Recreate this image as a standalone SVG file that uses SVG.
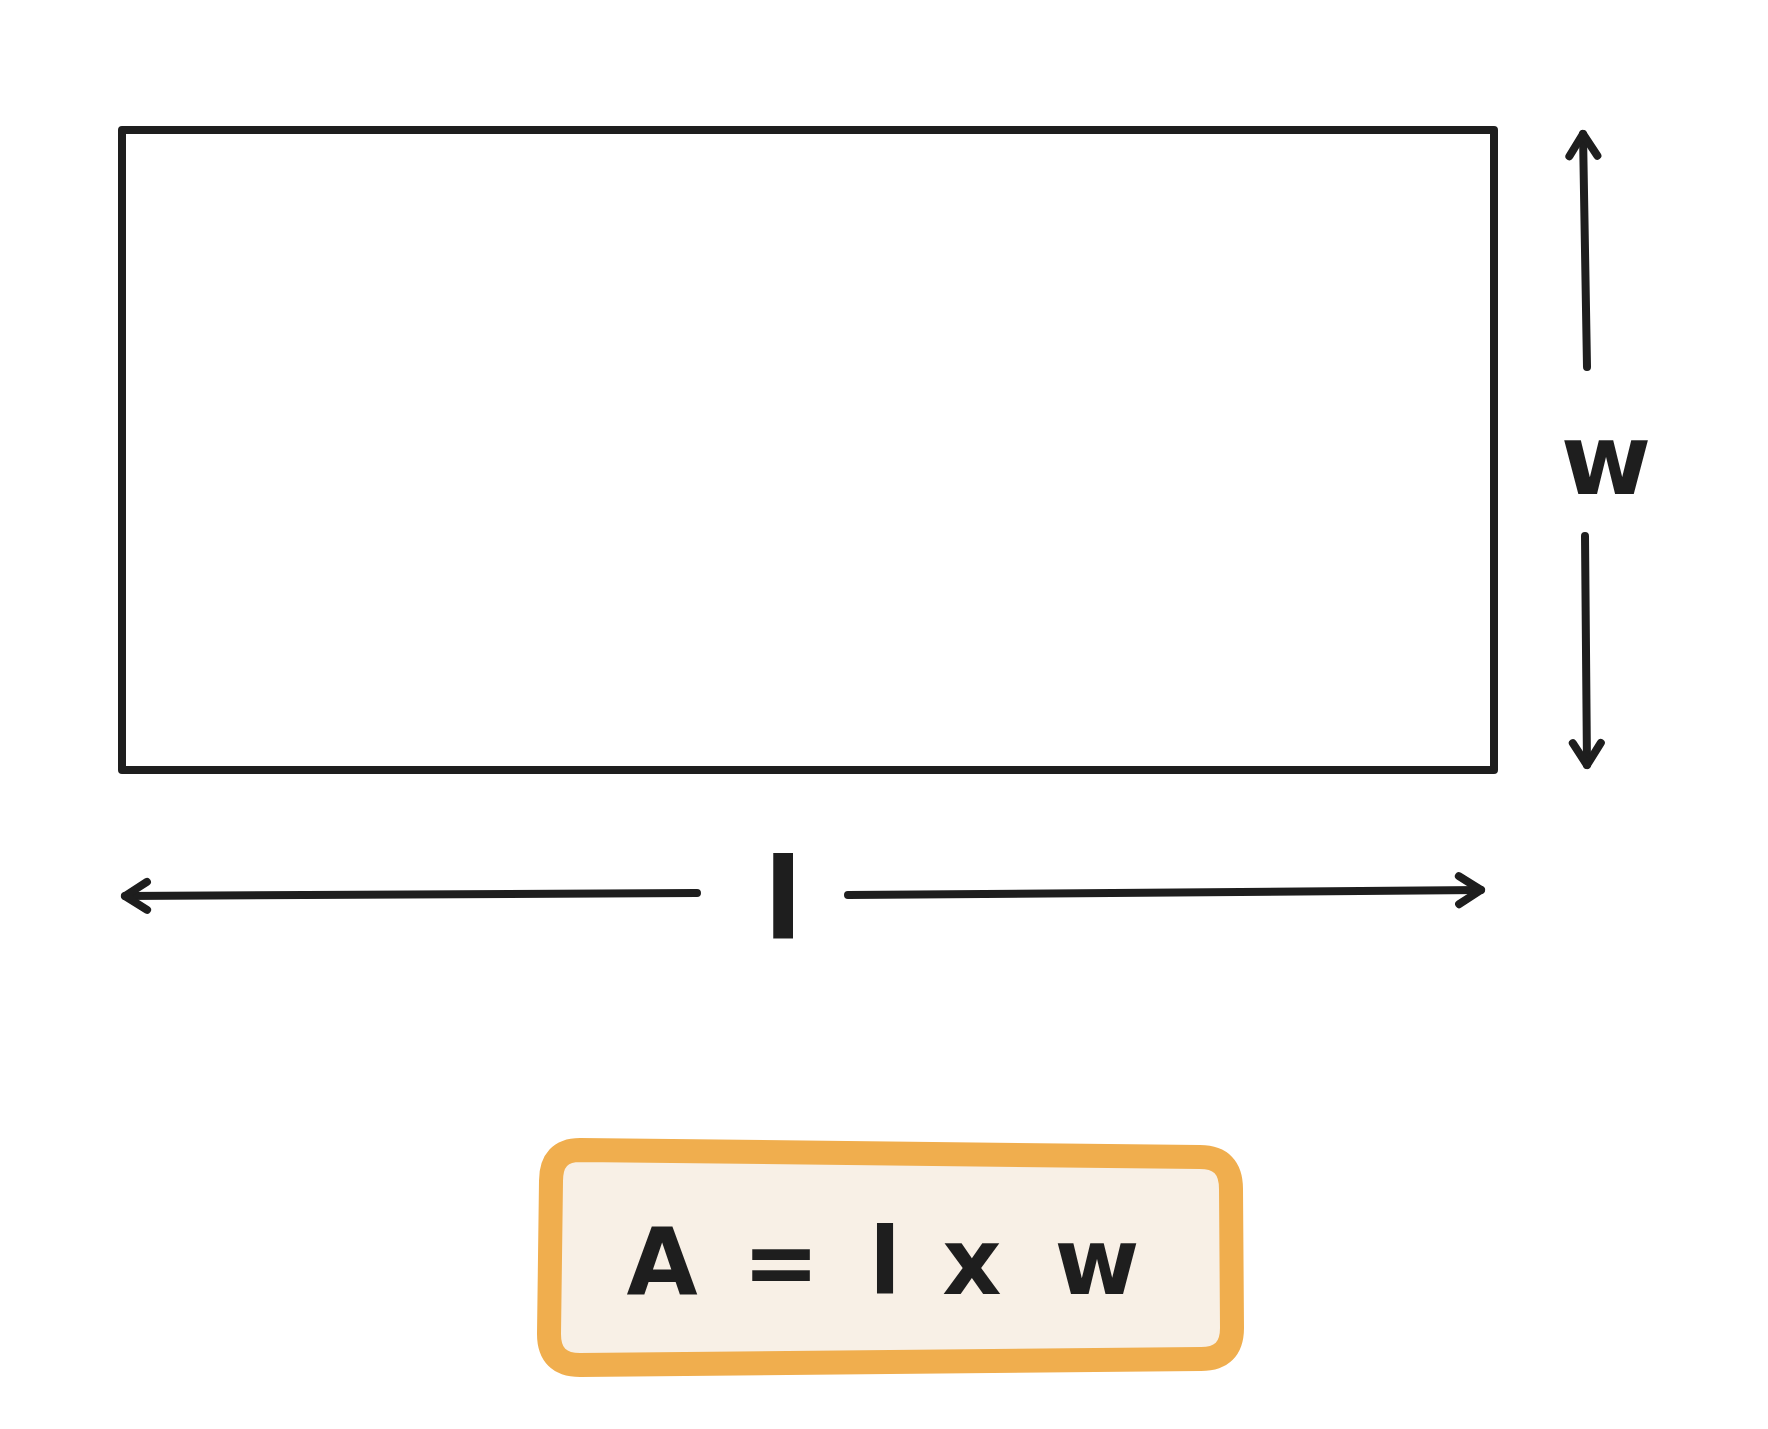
<svg xmlns="http://www.w3.org/2000/svg" width="1768" height="1429" viewBox="0 0 1768 1429">
  <defs>
    <style>
      .ink { stroke: #1e1e1e; fill: none; stroke-linecap: round; stroke-linejoin: round; }
      .conn { stroke-width: 8; }
      .lbl { font-family: "DejaVu Sans", "Liberation Sans", sans-serif; font-weight: bold; fill: #1e1e1e; text-anchor: middle; }
    </style>
    <marker id="chev" viewBox="0 0 40 40" refX="32" refY="20" markerWidth="40" markerHeight="40" markerUnits="userSpaceOnUse" orient="auto">
      <path d="M10 6 L32 20 L10 34" fill="none" stroke="#1e1e1e" stroke-width="8" stroke-linecap="round" stroke-linejoin="round"/>
    </marker>
  </defs>
  <rect width="1768" height="1429" fill="#ffffff"/>

  <g id="rectangle">
    <rect x="122" y="130" width="1372" height="640" class="ink" stroke-width="8" stroke-linejoin="miter"/>
  </g>

  <g id="connectors">
    <line x1="1587" y1="367" x2="1583" y2="134" class="ink conn" marker-end="url(#chev)"/>
    <line x1="1585" y1="536" x2="1587" y2="765" class="ink conn" marker-end="url(#chev)"/>
    <line x1="697" y1="893" x2="125" y2="896" class="ink conn" marker-end="url(#chev)"/>
    <line x1="848" y1="895" x2="1481" y2="890" class="ink conn" marker-end="url(#chev)"/>
  </g>

  <g id="label-w">
    <text x="1606" y="494" class="lbl" font-size="98">w</text>
  </g>

  <g id="label-l">
    <text x="783" y="938" class="lbl" font-size="113">l</text>
  </g>

  <g id="formula">
    <path d="M580 1150 L1200 1157 Q1231 1157 1231 1189 L1232 1328 Q1232 1359 1201 1359 L580 1365 Q549 1365 549 1334 L551 1181 Q551 1150 580 1150 Z" fill="#f8f0e6" stroke="#f0ae4e" stroke-width="24" stroke-linejoin="round"/>
    <text y="1294" class="lbl" font-size="92" x="662 722 781 833 885 928 972 1035 1097">A = l x w</text>
  </g>
</svg>
